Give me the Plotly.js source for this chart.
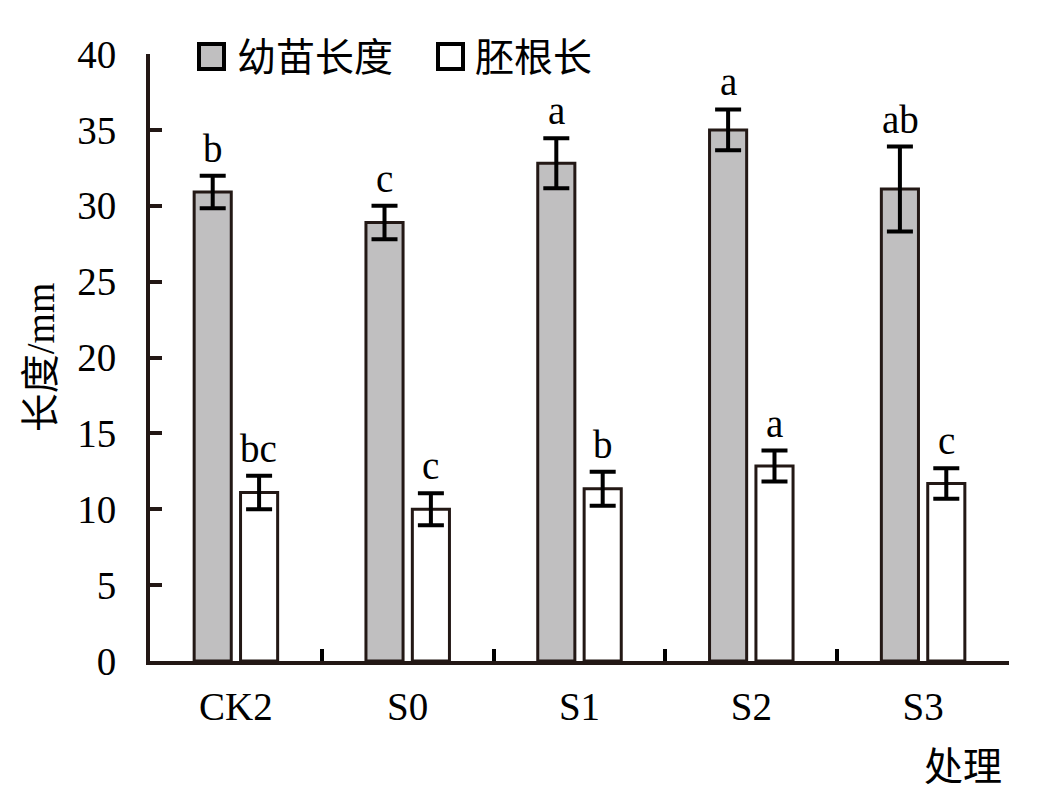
<!DOCTYPE html>
<html>
<head>
<meta charset="utf-8">
<script src="https://cdn.plot.ly/plotly-3.0.1.min.js"></script>
<style>
  html, body { margin: 0; padding: 0; background: #fff; }
  #chart { width: 1039px; height: 802px; }
</style>
</head>
<body>
<div id="chart"></div>
<script>
var categories = ['CK2', 'S0', 'S1', 'S2', 'S3'];
var seedlingLen = [30.9, 28.9, 32.8, 35.0, 31.1];
var seedlingErr = [1.07, 1.1, 1.65, 1.35, 2.8];
var radicleLen = [11.1, 10.0, 11.35, 12.85, 11.7];
var radicleErr = [1.1, 1.05, 1.12, 1.02, 1.0];
var seedlingLetters = ['b', 'c', 'a', 'a', 'ab'];
var radicleLetters = ['bc', 'c', 'b', 'a', 'c'];
var seriesNames = ['幼苗长度', '胚根长'];

var FONT = '"Liberation Serif", "Times New Roman", "Noto Sans CJK SC", serif';
var INK = '#231815';
var GRAY = '#c0bfc0';

// plot box in pixels, used to place the hand drawn legend
var L = 150, R = 30, T = 54, B = 141, W = 1039, H = 802;
var px = function (x) { return (x - L) / (W - L - R); };
var py = function (y) { return (H - B - y) / (H - B - T); };

var traces = [
	{
		type: 'bar', name: seriesNames[0], x: categories, y: seedlingLen,
		marker: { color: GRAY, line: { color: INK, width: 3 } },
		error_y: { type: 'data', array: seedlingErr, visible: true, color: '#000', thickness: 4, width: 13 }
	},
	{
		type: 'bar', name: seriesNames[1], x: categories, y: radicleLen,
		marker: { color: '#ffffff', line: { color: INK, width: 3 } },
		error_y: { type: 'data', array: radicleErr, visible: true, color: '#000', thickness: 4, width: 13 }
	}
];

// significance letters sit above each error bar
var annotations = [];
var shift = 23;
categories.forEach(function (c, i) {
	annotations.push({
		x: c, y: seedlingLen[i] + seedlingErr[i], xref: 'x', yref: 'y',
		text: seedlingLetters[i], showarrow: false, xshift: -shift, yshift: 4,
		yanchor: 'bottom', font: { family: FONT, size: 39, color: '#000' }
	});
	annotations.push({
		x: c, y: radicleLen[i] + radicleErr[i], xref: 'x', yref: 'y',
		text: radicleLetters[i], showarrow: false, xshift: shift, yshift: 4,
		yanchor: 'bottom', font: { family: FONT, size: 39, color: '#000' }
	});
});

// legend labels and x title
annotations.push({
	x: px(235), y: py(57), xref: 'paper', yref: 'paper', xanchor: 'left', yanchor: 'middle',
	text: seriesNames[0], showarrow: false, font: { family: FONT, size: 39, color: '#000' }
});
annotations.push({
	x: px(473), y: py(57), xref: 'paper', yref: 'paper', xanchor: 'left', yanchor: 'middle',
	text: seriesNames[1], showarrow: false, font: { family: FONT, size: 39, color: '#000' }
});
annotations.push({
	x: px(1004), y: py(766), xref: 'paper', yref: 'paper', xanchor: 'right', yanchor: 'middle',
	text: '处理', showarrow: false, font: { family: FONT, size: 39, color: '#000' }
});

var shapes = [
	{ type: 'rect', xref: 'paper', yref: 'paper', x0: px(199), x1: px(224), y0: py(69), y1: py(44),
	  fillcolor: GRAY, line: { color: '#000', width: 4 } },
	{ type: 'rect', xref: 'paper', yref: 'paper', x0: px(438), x1: px(463), y0: py(69), y1: py(44),
	  fillcolor: '#ffffff', line: { color: '#000', width: 4 } }
];

var layout = {
	width: W, height: H,
	margin: { l: L, r: R, t: T, b: B },
	paper_bgcolor: '#fff', plot_bgcolor: '#fff',
	showlegend: false,
	barmode: 'group', bargap: 0.46, bargroupgap: 0.2,
	font: { family: FONT, size: 39, color: '#000' },
	xaxis: {
		type: 'category', showline: true, linecolor: INK, linewidth: 4,
		ticks: 'inside', tickson: 'boundaries', ticklen: 12, tickwidth: 4, tickcolor: '#000',
		showgrid: false, zeroline: false, ticklabelstandoff: 8,
		tickfont: { family: FONT, size: 39, color: '#000' }
	},
	yaxis: {
		range: [0, 40], dtick: 5, showline: true, linecolor: INK, linewidth: 4,
		ticks: 'inside', ticklen: 12, tickwidth: 4, tickcolor: INK,
		showgrid: false, zeroline: false, ticklabelstandoff: 22,
		tickfont: { family: FONT, size: 39, color: '#000' },
		title: { text: '长度/mm', font: { family: FONT, size: 39, color: '#000' }, standoff: 12 }
	},
	annotations: annotations,
	shapes: shapes
};

Plotly.newPlot('chart', traces, layout, { staticPlot: true });
</script>
</body>
</html>
